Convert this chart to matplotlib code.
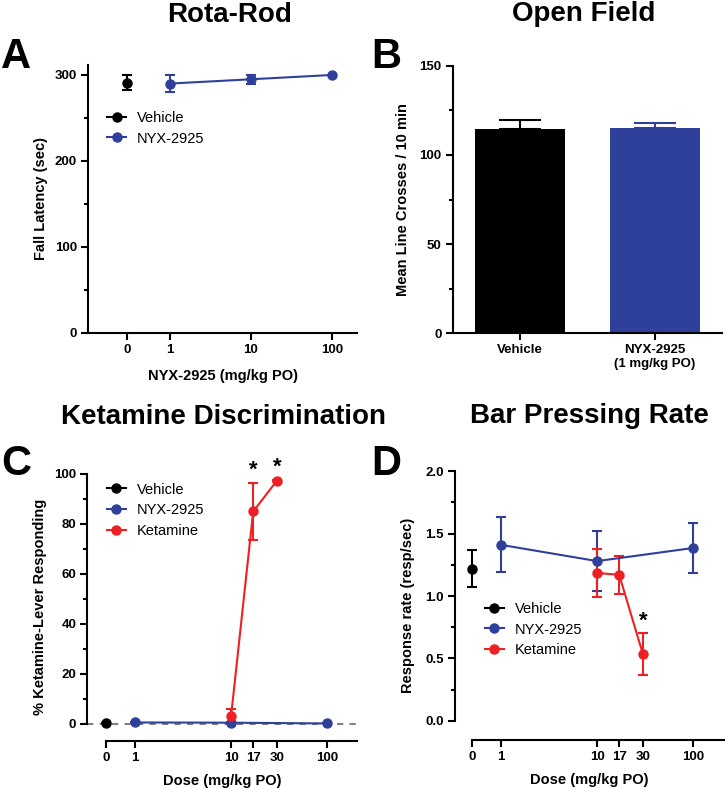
import numpy as np
import matplotlib
matplotlib.use("Agg")
import matplotlib.pyplot as plt
from matplotlib.lines import Line2D

plt.rcParams['font.family'] = ['Liberation Sans', 'DejaVu Sans']

#------------------------------ data ------------------------------
blue = '#2f409a'
red = '#ee2024'

# A: Rota-Rod
a_veh = [291]
a_veh_err = [9]
a_dose = [1, 10, 100]
a_nyx = [290, 295, 300]
a_nyx_err = [10, 5, 0.5]
a_ticks = [0, 1, 10, 100]

# B: Open Field
b_labels = ['Vehicle', 'NYX-2925\n(1 mg/kg PO)']
b_vals = [114.5, 115]
b_err = [5, 3]

# C: Ketamine discrimination
c_veh = [0.5]
c_veh_err = [0]
c_nyx_dose = [1, 10, 100]
c_nyx = [0.6, 0.5, 0.2]
c_nyx_err = [0, 0, 0]
c_ket_dose = [10, 17, 30]
c_ket = [3.3, 85, 97.3]
c_ket_err = [2.7, 11.5, 0.3]
c_sig = [17, 30]

# D: Bar pressing rate
d_veh = [1.22]
d_veh_err = [0.15]
d_nyx_dose = [1, 10, 100]
d_nyx = [1.41, 1.28, 1.385]
d_nyx_err = [0.22, 0.24, 0.2]
d_ket_dose = [10, 17, 30]
d_ket = [1.185, 1.17, 0.535]
d_ket_err = [0.19, 0.15, 0.17]
d_sig = [30]

dose_ticks = [0, 1, 10, 17, 30, 100]

W, H = 725, 788


def rect(l, r, t, b):
    return [l / W, (H - b) / H, (r - l) / W, (b - t) / H]


def xpos(d, zero):
    d = np.asarray(d, dtype=float)
    return np.where(d > 0, np.log10(np.where(d > 0, d, 1)), zero)


def style(ax):
    for s in ['top', 'right']:
        ax.spines[s].set_visible(False)
    for s in ['left', 'bottom']:
        ax.spines[s].set_linewidth(1.5)
    ax.tick_params(width=1.5, length=5, labelsize=9.5, pad=3)
    ax.tick_params(which='minor', width=1.5, length=3)
    for lab in ax.get_xticklabels() + ax.get_yticklabels():
        lab.set_fontweight('bold')


def series(ax, x, y, e, c):
    ax.errorbar(x, y, yerr=e, color=c, marker='o', ms=6.5, lw=1.5,
                elinewidth=1.5, capsize=3.3, capthick=1.5, clip_on=False, zorder=3)


def legend(ax, names, colors, anchor):
    hs = [Line2D([], [], color=c, marker='o', ms=6.5, lw=1.5) for c in colors]
    ax.legend(hs, names, loc='upper left', bbox_to_anchor=anchor, frameon=False,
              fontsize=10.5, handlelength=1.3, handletextpad=0.75, labelspacing=0.45,
              borderaxespad=0)


def title(x, y, s):
    fig.text(x / W, 1 - y / H, s, fontsize=20, fontweight='bold',
             ha='center', va='baseline')


fig = plt.figure(figsize=(7.25, 7.88), dpi=100)

#------------------------------ A ------------------------------
ax = fig.add_axes(rect(88, 357, 65, 333))
series(ax, xpos([0], -0.53), a_veh, a_veh_err, 'black')
series(ax, xpos(a_dose, -0.53), a_nyx, a_nyx_err, blue)
ax.set_xlim(-1.01, 2.31)
ax.set_ylim(0, 311.6)
ax.set_xticks(xpos(a_ticks, -0.53))
ax.set_xticklabels([str(t) for t in a_ticks])
ax.set_yticks([0, 100, 200, 300])
ax.set_yticks([50, 150, 250], minor=True)
ax.set_ylabel('Fall Latency (sec)', fontsize=10.5, fontweight='bold', labelpad=5)
ax.set_xlabel('NYX-2925 (mg/kg PO)', fontsize=10.5, fontweight='bold', labelpad=9)
style(ax)
legend(ax, ['Vehicle', 'NYX-2925'], ['black', blue], (0.05, 0.85))
title(230, 22, 'Rota-Rod')
fig.text(1 / W, 1 - 37 / H, 'A', fontsize=30, fontweight='bold', va='top')

#------------------------------ B ------------------------------
ax = fig.add_axes(rect(452.7, 722, 65.7, 333.3))
xb = np.arange(len(b_vals))
ax.bar(xb, b_vals, width=0.67, color=['black', blue], zorder=2)
for i in range(len(b_vals)):
    ax.errorbar(xb[i], b_vals[i], yerr=[[0], [b_err[i]]],
                color=['black', blue][i], elinewidth=1.5, capsize=15, capthick=1.5)
ax.set_xlim(-0.5, 1.5)
ax.set_ylim(0, 150)
ax.set_xticks(xb)
ax.set_xticklabels(b_labels)
ax.set_yticks([0, 50, 100, 150])
ax.set_yticks([25, 75, 125], minor=True)
ax.set_ylabel('Mean Line Crosses / 10 min', fontsize=10.5, fontweight='bold', labelpad=7)
style(ax)
title(584, 21, 'Open Field')
fig.text(371 / W, 1 - 37 / H, 'B', fontsize=30, fontweight='bold', va='top')

#------------------------------ C ------------------------------
ax = fig.add_axes(rect(87.3, 356.7, 474, 740.7))
ax.axhline(0, color='#808080', lw=1.5, ls=(0, (3, 3)), zorder=1)
series(ax, xpos([0], -0.3), c_veh, c_veh_err, 'black')
series(ax, xpos(c_nyx_dose, -0.3), c_nyx, c_nyx_err, blue)
series(ax, xpos(c_ket_dose, -0.3), c_ket, c_ket_err, red)
for d in c_sig:
    i = c_ket_dose.index(d)
    ax.text(xpos([d], -0.3)[0], c_ket[i] + c_ket_err[i] + 1, '*', ha='center',
            va='bottom', fontsize=16, fontweight='bold')
ax.set_xlim(-0.5, 2.31)
ax.set_ylim(-6.7, 100)
ax.spines['left'].set_bounds(0, 100)
ax.spines['bottom'].set_bounds(-0.3, 2.31)
ax.set_xticks(xpos(dose_ticks, -0.3))
ax.set_xticklabels([str(t) for t in dose_ticks])
ax.set_yticks([0, 20, 40, 60, 80, 100])
ax.set_yticks([10, 30, 50, 70, 90], minor=True)
ax.set_ylabel('% Ketamine-Lever Responding', fontsize=10.5, fontweight='bold', labelpad=5)
ax.set_xlabel('Dose (mg/kg PO)', fontsize=10.5, fontweight='bold', labelpad=7)
style(ax)
legend(ax, ['Vehicle', 'NYX-2925', 'Ketamine'], ['black', blue, red], (0.05, 0.99))
title(223, 424, 'Ketamine Discrimination')
fig.text(1 / W, 1 - 444 / H, 'C', fontsize=30, fontweight='bold', va='top')

#------------------------------ D ------------------------------
ax = fig.add_axes(rect(454.7, 723.7, 471.3, 739.7))
series(ax, xpos([0], -0.3), d_veh, d_veh_err, 'black')
series(ax, xpos(d_nyx_dose, -0.3), d_nyx, d_nyx_err, blue)
series(ax, xpos(d_ket_dose, -0.3), d_ket, d_ket_err, red)
for d in d_sig:
    i = d_ket_dose.index(d)
    ax.text(xpos([d], -0.3)[0], d_ket[i] + d_ket_err[i] + 0.01, '*', ha='center',
            va='bottom', fontsize=16, fontweight='bold')
ax.set_xlim(-0.485, 2.32)
ax.set_ylim(-0.152, 2.0)
ax.spines['left'].set_bounds(0, 2.0)
ax.spines['bottom'].set_bounds(-0.3, 2.32)
ax.set_xticks(xpos(dose_ticks, -0.3))
ax.set_xticklabels([str(t) for t in dose_ticks])
ax.set_yticks([0, 0.5, 1.0, 1.5, 2.0])
ax.set_yticklabels(['0.0', '0.5', '1.0', '1.5', '2.0'])
ax.set_yticks([0.25, 0.75, 1.25, 1.75], minor=True)
ax.set_ylabel('Response rate (resp/sec)', fontsize=10.5, fontweight='bold', labelpad=7)
ax.set_xlabel('Dose (mg/kg PO)', fontsize=10.5, fontweight='bold', labelpad=7)
style(ax)
legend(ax, ['Vehicle', 'NYX-2925', 'Ketamine'], ['black', blue, red], (0.09, 0.535))
title(589, 423, 'Bar Pressing Rate')
fig.text(371 / W, 1 - 444 / H, 'D', fontsize=30, fontweight='bold', va='top')

fig.savefig('out.png', dpi=100)
